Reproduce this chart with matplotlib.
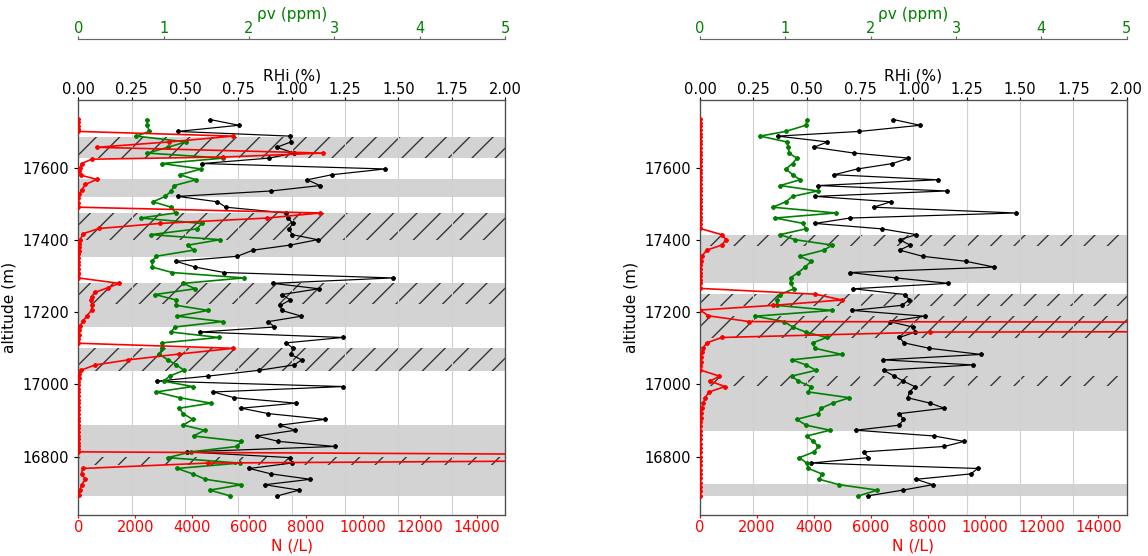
import matplotlib
matplotlib.use("Agg")
import matplotlib.pyplot as plt
from matplotlib.ticker import MultipleLocator, FormatStrFormatter

# ---------------- data ----------------
ALT = [17734, 17718, 17701, 17688, 17672, 17657, 17641, 17627, 17612, 17597,
       17581, 17567, 17551, 17536, 17521, 17506, 17491, 17475, 17461, 17446,
       17431, 17415, 17401, 17386, 17372, 17355, 17341, 17325, 17310, 17295,
       17280, 17265, 17249, 17234, 17219, 17205, 17189, 17174, 17159, 17145,
       17130, 17115, 17100, 17083, 17068, 17054, 17039, 17023, 17009, 16994,
       16979, 16963, 16948, 16934, 16919, 16903, 16887, 16873, 16857, 16842,
       16828, 16813, 16797, 16782, 16767, 16752, 16737, 16722, 16707, 16691]

RHI_L = [0.617, 0.753, 0.466, 0.992, 0.997, 0.930, 1.012, 0.895, 0.580, 1.438,
         1.189, 1.073, 1.133, 0.905, 0.466, 0.652, 0.692, 0.973, 0.984, 1.005,
         0.988, 1.002, 1.122, 0.992, 0.820, 0.745, 0.458, 0.548, 0.684, 1.473,
         0.913, 1.127, 0.955, 0.993, 0.947, 0.953, 1.046, 0.891, 0.919, 0.570,
         1.240, 0.972, 1.008, 0.995, 1.047, 1.012, 0.847, 0.609, 0.371, 1.243,
         0.633, 0.731, 1.020, 0.764, 0.891, 1.157, 0.945, 1.018, 0.836, 0.938,
         1.202, 0.508, 0.994, 1.000, 0.802, 0.903, 1.088, 0.874, 1.034, 0.933]

RV_L = [0.80, 0.81, 0.83, 0.68, 1.26, 1.05, 0.81, 1.70, 0.98, 1.44,
        1.19, 1.38, 1.125, 1.09, 1.02, 0.875, 1.09, 1.14, 0.73, 1.445,
        1.39, 0.85, 1.66, 1.29, 1.35, 0.91, 0.867, 0.867, 1.10, 1.94,
        1.23, 1.37, 0.90, 1.145, 1.15, 1.52, 1.16, 1.69, 1.13, 1.09,
        1.65, 0.98, 0.98, 0.95, 1.05, 1.15, 1.24, 1.07, 1.00, 1.34,
        0.91, 1.19, 1.555, 1.18, 1.23, 1.34, 1.23, 1.48, 1.35, 1.91,
        1.86, 1.32, 1.05, 1.89, 1.16, 1.34, 1.49, 1.91, 1.54, 1.78]

RHI_R = [0.906, 1.031, 0.747, 0.364, 0.597, 0.534, 0.722, 0.977, 0.902, 0.738,
         0.628, 1.113, 0.555, 1.156, 0.539, 0.894, 0.813, 1.480, 0.703, 0.539,
         0.852, 1.014, 0.936, 0.984, 0.936, 1.043, 1.247, 1.379, 0.702, 0.919,
         1.164, 0.718, 0.961, 0.981, 0.945, 0.714, 1.052, 0.888, 0.997, 1.008,
         0.934, 0.957, 1.074, 1.317, 0.859, 1.278, 0.861, 0.910, 0.953, 1.006,
         0.982, 0.973, 1.078, 1.145, 0.934, 0.953, 0.934, 0.730, 1.097, 1.238,
         1.145, 0.767, 0.789, 0.519, 1.301, 1.270, 1.013, 1.090, 0.950, 0.786]

RV_R = [1.258, 1.238, 1.004, 0.703, 1.016, 1.035, 1.043, 1.133, 1.086, 1.004,
        1.086, 1.172, 0.9375, 1.379, 1.086, 1.004, 0.852, 1.590, 0.879, 1.211,
        1.238, 0.9375, 1.113, 1.55, 1.45, 1.17, 1.30, 1.23, 1.15, 1.06,
        1.06, 1.10, 0.9375, 0.898, 0.898, 1.55, 0.645, 0.984, 1.086, 1.238,
        1.484, 1.320, 1.348, 1.660, 1.074, 1.242, 1.359, 1.074, 1.152, 1.297,
        1.27, 1.75, 1.555, 1.418, 1.387, 1.133, 1.242, 1.523, 1.25, 1.328,
        1.387, 1.336, 1.164, 1.25, 1.27, 1.426, 1.398, 1.629, 2.078, 1.855]

ALT_N_L = [17735, 17726, 17717, 17708, 17701, 17688, 17672, 17657, 17641, 17630,
           17624, 17612, 17600, 17590, 17580, 17568, 17554, 17540, 17528, 17516,
           17504, 17491, 17475, 17461, 17446, 17432, 17418, 17401, 17390, 17380,
           17370, 17360, 17350, 17340, 17330, 17320, 17310, 17305, 17295, 17280,
           17268, 17255, 17243, 17233, 17220, 17206, 17190, 17176, 17162, 17150,
           17138, 17126, 17114, 17100, 17084, 17068, 17054, 17039, 17028, 17018,
           17008, 16998, 16988, 16978, 16968, 16958, 16948, 16938, 16928, 16918,
           16908, 16898, 16888, 16878, 16868, 16858, 16848, 16838, 16828, 16820,
           16813, 16798, 16782, 16767, 16752, 16737, 16722, 16707, 16693]
N_L = [0, 0, 0, 0, 0, 5450, 3200, 650, 8600, 5100,
       470, 120, 60, 40, 80, 650, 250, 120, 40, 0,
       0, 0, 8500, 6650, 2870, 730, 180, 60, 30, 20,
       10, 0, 0, 0, 0, 0, 0, 0, 0, 1440,
       1050, 580, 470, 430, 490, 470, 300, 170, 60, 20,
       10, 0, 0, 5450, 3530, 1760, 600, 80, 30, 10,
       0, 0, 0, 0, 0, 0, 0, 0, 0, 0,
       0, 0, 0, 0, 0, 0, 0, 0, 0, 0,
       0, 38000, 4560, 150, 117, 250, 117, 60, 30]

ALT_N_R = [17735, 17725, 17715, 17705, 17695, 17685, 17675, 17665, 17655, 17645,
           17635, 17625, 17615, 17605, 17595, 17585, 17575, 17565, 17555, 17545,
           17535, 17525, 17515, 17505, 17495, 17485, 17475, 17465, 17455, 17445,
           17432, 17415, 17401, 17386, 17372, 17355, 17341, 17330, 17320, 17310,
           17300, 17290, 17280, 17266, 17250, 17234, 17219, 17206, 17190, 17174,
           17160, 17145, 17130, 17115, 17102, 17089, 17076, 17063, 17050, 17040,
           17023, 17009, 16994, 16979, 16963, 16948, 16934, 16920, 16908, 16896,
           16884, 16872, 16860, 16848, 16836, 16824, 16812, 16800, 16788, 16776,
           16764, 16752, 16740, 16728, 16716, 16704, 16692]
N_R = [0, 0, 0, 0, 0, 0, 0, 0, 0, 0,
       0, 0, 0, 0, 0, 0, 0, 0, 0, 0,
       0, 0, 0, 0, 0, 0, 0, 0, 0, 0,
       0, 760, 914, 762, 234, 60, 20, 10, 0, 0,
       0, 0, 0, 0, 4050, 4980, 2580, 0, 293, 1735,
       150000, 8100, 760, 234, 117, 59, 30, 20, 10, 0,
       680, 352, 879, 316, 176, 117, 59, 30, 20, 10,
       0, 0, 0, 0, 0, 0, 0, 0, 0, 0,
       0, 0, 0, 0, 0, 0, 0]

GREY_L = [(17626, 17686), (17520, 17568), (17354, 17476), (17158, 17280),
          (17037, 17100), (16690, 16887)]
HATCH_L = [(17626, 17686), (17400, 17476), (17222, 17280), (17037, 17100),
           (16778, 16800)]
GREY_R = [(17280, 17415), (16871, 17250), (16690, 16723)]
HATCH_R = [(17383, 17415), (17217, 17250), (17128, 17190), (16995, 17023)]

N_TICKS = [0, 2000, 4000, 6000, 8000, 10000, 12000, 14000]
ALT_TICKS = [16800, 17000, 17200, 17400, 17600]
RV_TICKS = [0, 1, 2, 3, 4, 5]

# ---------------- figure ----------------
DPI = 140
PX = 72.0 / DPI          # one pixel in points
plt.rcParams["hatch.linewidth"] = 0.7
fig = plt.figure(figsize=(1148 / DPI, 556 / DPI), dpi=DPI)
FS = 7.5
LFS = 7.9
SPC = "0.3"


def panel(rect, alt_n, n, rhi, rv, grey, hatch):
    ax = fig.add_axes(rect)
    ax.set_xlim(0, 15000)
    ax.set_ylim(16638, 17788)
    for y0, y1 in grey:
        ax.axhspan(y0, y1, facecolor="lightgrey", lw=0, zorder=0)
    for y0, y1 in hatch:
        ax.axhspan(y0, y1, facecolor="none", edgecolor="0.2", hatch="//",
                   lw=0, zorder=0.5)
    ax.set_xticks(N_TICKS)
    ax.set_yticks(ALT_TICKS)
    ax.tick_params(axis="x", colors="red", labelsize=FS,
                   length=3 * PX, pad=2 * PX, width=0.6)
    ax.tick_params(axis="y", labelsize=FS, length=4 * PX, pad=5 * PX, width=0.6)
    ax.set_xlabel("N (/L)", color="red", fontsize=LFS, labelpad=3 * PX)
    ax.set_ylabel("altitude (m)", fontsize=LFS, labelpad=6 * PX)
    for s in ax.spines.values():
        s.set_color(SPC)
        s.set_linewidth(0.6)

    axr = ax.twiny()
    axr.set_xlim(0, 2)
    axr.xaxis.set_major_locator(MultipleLocator(0.25))
    axr.xaxis.set_major_formatter(FormatStrFormatter("%.2f"))
    axr.grid(axis="x", color="0.82", lw=0.6)
    axr.plot(rhi, ALT, color="black", lw=0.62, marker="*", ms=2.1)
    axr.set_xlabel("RHi (%)", fontsize=LFS, labelpad=2 * PX)
    axr.tick_params(axis="x", labelsize=FS, colors="black",
                    length=3 * PX, pad=0, width=0.6)
    for s in axr.spines.values():
        s.set_color(SPC)
        s.set_linewidth(0.6)

    axg = ax.twiny()
    axg.set_xlim(0, 5)
    axg.set_xticks(RV_TICKS)
    axg.spines["top"].set_position(("outward", 61 * PX))
    for k in ("left", "right", "bottom"):
        axg.spines[k].set_visible(False)
    axg.spines["top"].set_color("0.4")
    axg.spines["top"].set_linewidth(0.6)
    axg.plot(rv, ALT, color="green", lw=0.85, marker="*", ms=2.1)
    axg.set_xlabel("ρv (ppm)", color="green", fontsize=LFS, labelpad=2 * PX)
    axg.tick_params(axis="x", labelsize=FS, labelcolor="green", color="0.4",
                    length=3 * PX, pad=0, width=0.6)

    axn = ax.twiny()
    axn.set_xlim(0, 15000)
    axn.set_xticks([])
    for s in axn.spines.values():
        s.set_visible(False)
    axn.plot(n, alt_n, color="red", lw=0.85, marker="*", ms=2.1)
    axn.set_ylim(16638, 17788)


panel([0.0682, 0.0737, 0.3717, 0.7464], ALT_N_L, N_L, RHI_L, RV_L, GREY_L, HATCH_L)
panel([0.6098, 0.0737, 0.3717, 0.7464], ALT_N_R, N_R, RHI_R, RV_R, GREY_R, HATCH_R)

fig.savefig("out.png", dpi=DPI)
